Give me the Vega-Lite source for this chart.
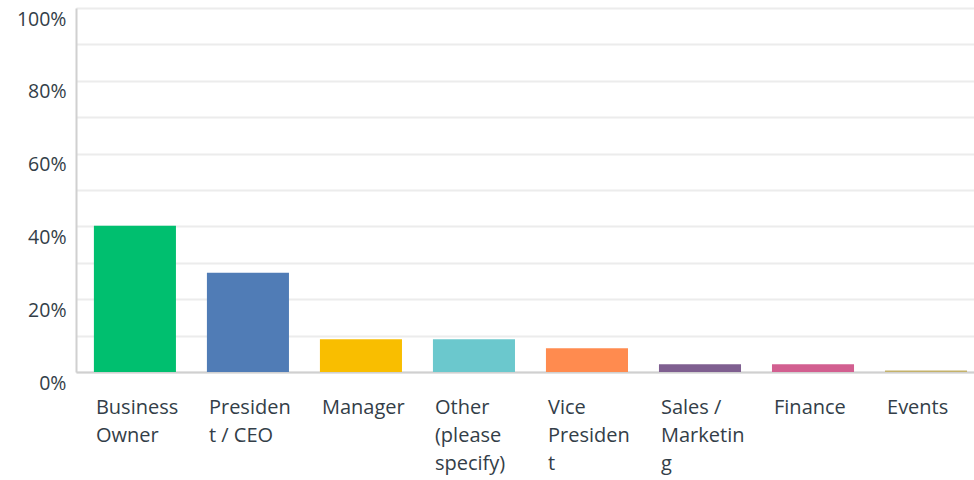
{
  "$schema": "https://vega.github.io/schema/vega-lite/v6.json",
  "width": 898,
  "height": 364,
  "autosize": {"type": "none"},
  "padding": {"left": 76, "top": 8, "right": 0, "bottom": 108},
  "background": "white",
  "config": {
    "view": {"stroke": null},
    "font": "Open Sans"
  },
  "data": {
    "values": [
      {"role": "Business Owner", "order": 1, "pct": 40.2},
      {"role": "President / CEO", "order": 2, "pct": 27.3},
      {"role": "Manager", "order": 3, "pct": 9.0},
      {"role": "Other (please specify)", "order": 4, "pct": 9.0},
      {"role": "Vice President", "order": 5, "pct": 6.5},
      {"role": "Sales / Marketing", "order": 6, "pct": 2.1},
      {"role": "Finance", "order": 7, "pct": 2.1},
      {"role": "Events", "order": 8, "pct": 0.4}
    ]
  },
  "mark": {"type": "bar"},
  "encoding": {
    "x": {
      "field": "role",
      "type": "nominal",
      "sort": {"field": "order"},
      "scale": {"paddingInner": 0.274, "paddingOuter": 0.11, "align": 0.72},
      "axis": {
        "title": null,
        "labelAngle": 0,
        "labelAlign": "left",
        "labelBaseline": "top",
        "labelOffset": -39,
        "labelPadding": 25,
        "labelFontSize": 20,
        "labelColor": "#333e48",
        "labelLineHeight": 28,
        "labelLimit": 0,
        "labelOverlap": false,
        "ticks": false,
        "domainColor": "#d0d0d0",
        "domainWidth": 2,
        "labelExpr": "datum.value == 'Business Owner' ? ['Business', 'Owner'] : datum.value == 'President / CEO' ? ['Presiden', 't / CEO'] : datum.value == 'Other (please specify)' ? ['Other', '(please', 'specify)'] : datum.value == 'Vice President' ? ['Vice', 'Presiden', 't'] : datum.value == 'Sales / Marketing' ? ['Sales /', 'Marketin', 'g'] : datum.value"
      }
    },
    "y": {
      "field": "pct",
      "type": "quantitative",
      "scale": {"domain": [0, 100], "nice": false},
      "axis": {
        "title": null,
        "values": [0, 10, 20, 30, 40, 50, 60, 70, 80, 90, 100],
        "labelExpr": "datum.value % 20 == 0 ? datum.value + '%' : ''",
        "labelFontSize": 19.5,
        "labelColor": "#333e48",
        "labelPadding": 10,
        "labelBaseline": "top",
        "labelOffset": 2,
        "labelOverlap": false,
        "ticks": false,
        "domainColor": "#d0d0d0",
        "domainWidth": 2,
        "gridColor": "#ececec",
        "gridWidth": 2
      }
    },
    "color": {
      "field": "role",
      "type": "nominal",
      "sort": {"field": "order"},
      "scale": {"range": ["#00bf6f", "#507cb6", "#f9be00", "#6bc8cd", "#ff8b4f", "#7f5f90", "#d25f90", "#c4b26b"]},
      "legend": null
    }
  }
}
